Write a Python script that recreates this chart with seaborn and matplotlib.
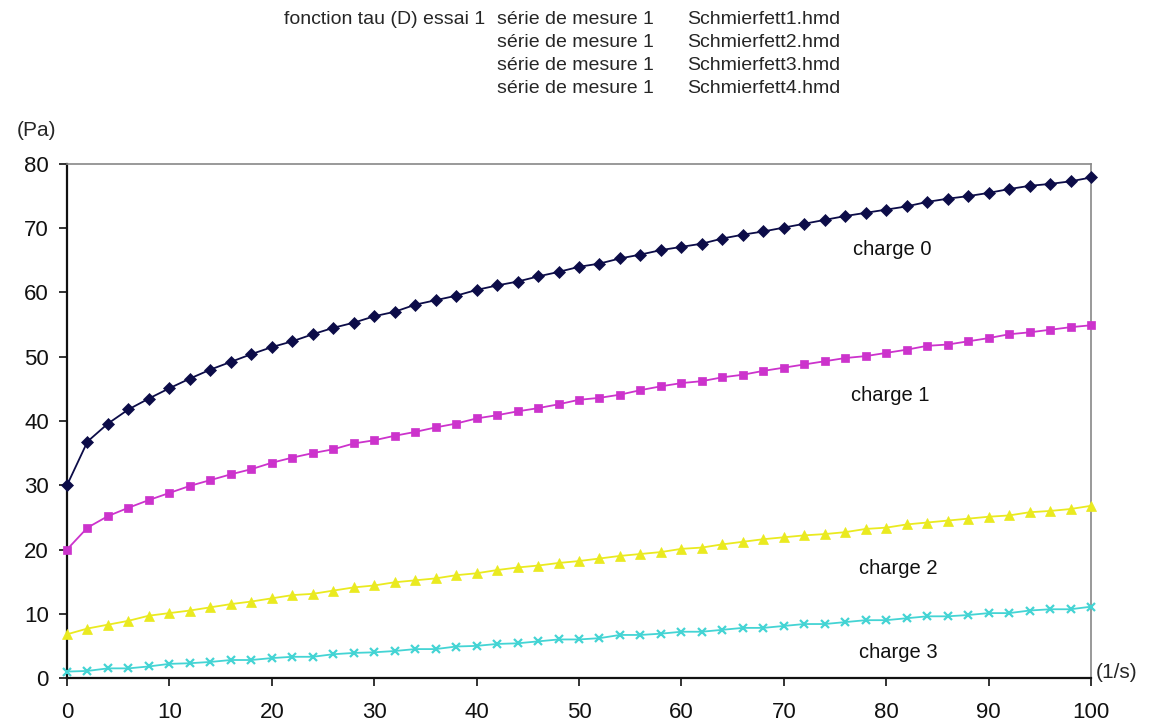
import numpy as np
import pandas as pd
import matplotlib
matplotlib.use("Agg")
import matplotlib.pyplot as plt
import seaborn as sns

# ---- data ----
shear_rate = list(range(0, 101, 2))  # (1/s)
charge0 = [30.0, 36.8, 39.6, 41.8, 43.5, 45.1, 46.6, 48.0, 49.2, 50.4,
           51.5, 52.4, 53.5, 54.5, 55.3, 56.3, 57.0, 58.1, 58.8, 59.5,
           60.4, 61.1, 61.7, 62.5, 63.2, 64.0, 64.5, 65.3, 65.9, 66.6,
           67.1, 67.6, 68.4, 69.0, 69.5, 70.1, 70.7, 71.3, 71.9, 72.4,
           72.9, 73.4, 74.1, 74.6, 75.0, 75.5, 76.1, 76.6, 76.9, 77.3, 77.9]
charge1 = [20.0, 23.4, 25.2, 26.5, 27.7, 28.8, 29.9, 30.8, 31.7, 32.5,
           33.5, 34.3, 35.0, 35.6, 36.5, 37.0, 37.7, 38.3, 39.0, 39.6,
           40.4, 40.9, 41.5, 42.0, 42.6, 43.3, 43.6, 44.1, 44.8, 45.4,
           45.9, 46.2, 46.8, 47.2, 47.8, 48.3, 48.8, 49.3, 49.8, 50.1,
           50.6, 51.1, 51.7, 51.9, 52.4, 52.9, 53.5, 53.8, 54.2, 54.6, 54.9]
charge2 = [6.8, 7.7, 8.3, 8.9, 9.7, 10.1, 10.5, 11.0, 11.5, 11.9,
           12.4, 12.9, 13.1, 13.6, 14.1, 14.4, 14.9, 15.2, 15.5, 16.0,
           16.3, 16.8, 17.2, 17.5, 17.9, 18.2, 18.6, 19.0, 19.3, 19.6,
           20.1, 20.3, 20.8, 21.2, 21.6, 21.9, 22.2, 22.4, 22.7, 23.2,
           23.4, 23.9, 24.2, 24.5, 24.8, 25.1, 25.3, 25.8, 26.0, 26.3, 26.8]
charge3 = [1.0, 1.1, 1.5, 1.5, 1.8, 2.2, 2.3, 2.5, 2.8, 2.8,
           3.1, 3.3, 3.3, 3.7, 3.9, 4.0, 4.2, 4.5, 4.5, 4.9,
           5.0, 5.3, 5.4, 5.7, 6.0, 6.0, 6.2, 6.7, 6.7, 6.9,
           7.2, 7.2, 7.5, 7.8, 7.8, 8.1, 8.4, 8.4, 8.7, 9.0,
           9.0, 9.3, 9.6, 9.6, 9.8, 10.1, 10.1, 10.5, 10.7, 10.7, 11.1]

series_names = ["charge 0", "charge 1", "charge 2", "charge 3"]
series_values = [charge0, charge1, charge2, charge3]
label_pos = [(80.6, 66.7), (80.4, 43.9), (81.2, 17.0), (81.2, 4.0)]

header_left = "fonction tau (D) essai 1"
header_mid = ["série de mesure 1"] * 4
header_right = ["Schmierfett1.hmd", "Schmierfett2.hmd", "Schmierfett3.hmd", "Schmierfett4.hmd"]

x_ticks = list(range(0, 101, 10))
y_ticks = list(range(0, 81, 10))

# ---- styling ----
colors = ["#0c0c48", "#cc33cc", "#eaea20", "#44d4d4"]
markers = ["D", "s", "^", "x"]
msizes = [6.5, 6.2, 7.0, 5.8]

sns.set_theme(style="white")
plt.rcParams["font.family"] = ["Liberation Sans", "DejaVu Sans"]

fig = plt.figure(figsize=(11.51, 7.25), dpi=100)
ax = fig.add_axes([67 / 1151, 1 - 678 / 725, (1091 - 67) / 1151, (678 - 164) / 725])

for name, vals, c, m, ms in zip(series_names, series_values, colors, markers, msizes):
    df = pd.DataFrame({"x": shear_rate, "y": vals})
    sns.lineplot(data=df, x="x", y="y", ax=ax, color=c, marker=m,
                 markersize=ms, markeredgecolor=c, markeredgewidth=1.6 if m == "x" else 0.5,
                 linewidth=1.3, clip_on=False, zorder=3)

for name, (lx, ly) in zip(series_names, label_pos):
    ax.text(lx, ly, name, ha="center", va="center", fontsize=14.5, color="#111111")

ax.set_xlim(0, 100)
ax.set_ylim(0, 80)
ax.set_xticks(x_ticks)
ax.set_yticks(y_ticks)
ax.set_xlabel("")
ax.set_ylabel("")
ax.tick_params(axis="both", direction="out", length=6, width=1.2, colors="#111111",
               labelsize=16, pad=7, bottom=True, left=True)
ax.tick_params(axis="x", pad=11)
for s in ["left", "bottom"]:
    ax.spines[s].set_color("#111111")
    ax.spines[s].set_linewidth(1.6)
for s in ["top", "right"]:
    ax.spines[s].set_color("#888888")
    ax.spines[s].set_linewidth(1.2)
ax.grid(False)
ax.set_facecolor("white")

# header texts
fig.text(485 / 1151, 1 - 19 / 725, header_left, ha="right", va="center", fontsize=14)
for i, (mtxt, rtxt) in enumerate(zip(header_mid, header_right)):
    yy = 1 - (19 + 23.3 * i) / 725
    fig.text(497 / 1151, yy, mtxt, ha="left", va="center", fontsize=14)
    fig.text(687 / 1151, yy, rtxt, ha="left", va="center", fontsize=14)

fig.text(17 / 1151, 1 - 131 / 725, "(Pa)", ha="left", va="center", fontsize=15)
fig.text(1096 / 1151, 1 - 672 / 725, "(1/s)", ha="left", va="center", fontsize=15)

fig.savefig("out.png", dpi=100, facecolor="white")
